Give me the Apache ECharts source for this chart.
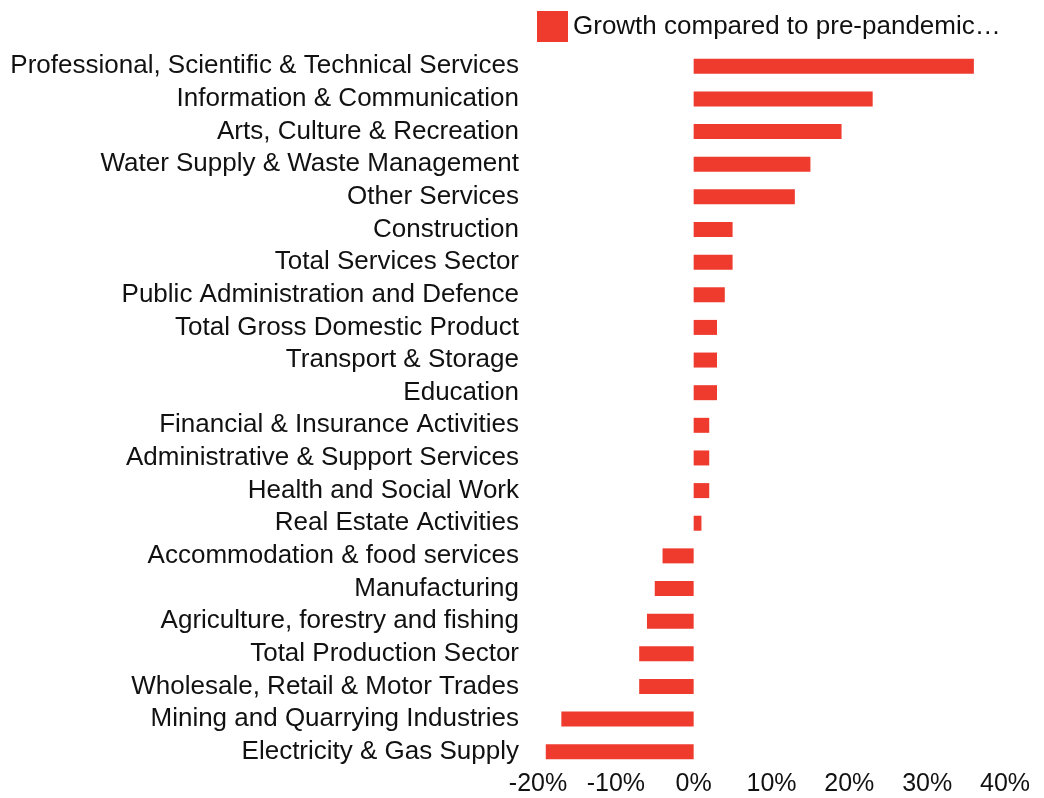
<!DOCTYPE html>
<html>
<head>
<meta charset="utf-8">
<script src="https://cdn.jsdelivr.net/npm/echarts@6/dist/echarts.min.js"></script>
<style>
  html, body { margin: 0; padding: 0; background: #fff; }
  #chart { width: 1044px; height: 798px; }
</style>
</head>
<body>
<div id="chart"></div>
<script>
// sectors, top to bottom
const sectors = [
  'Professional, Scientific & Technical Services',
  'Information & Communication',
  'Arts, Culture & Recreation',
  'Water Supply & Waste Management',
  'Other Services',
  'Construction',
  'Total Services Sector',
  'Public Administration and Defence',
  'Total Gross Domestic Product',
  'Transport & Storage',
  'Education',
  'Financial & Insurance Activities',
  'Administrative & Support Services',
  'Health and Social Work',
  'Real Estate Activities',
  'Accommodation & food services',
  'Manufacturing',
  'Agriculture, forestry and fishing',
  'Total Production Sector',
  'Wholesale, Retail & Motor Trades',
  'Mining and Quarrying Industries',
  'Electricity & Gas Supply'
]
// growth in %
const growth = [36, 23, 19, 15, 13, 5, 5, 4, 3, 3, 3, 2, 2, 2, 1, -4, -5, -6, -7, -7, -17, -19]
const seriesName = 'Growth compared to pre-pandemic…'

const font = "'Liberation Sans', Arial, sans-serif"

const chart = echarts.init(document.getElementById('chart'))
const option = {
  animation: false,
  textStyle: { fontFamily: font },
  legend: {
    left: 532,
    top: 6,
    itemWidth: 31,
    itemHeight: 31,
    itemGap: 10,
    textStyle: { fontSize: 26, color: '#111', fontFamily: font },
    data: [{ name: seriesName, icon: 'rect' }]
  },
  grid: {
    left: 538,
    right: 39,
    top: 50,
    bottom: 30,
    containLabel: false
  },
  xAxis: {
    type: 'value',
    min: -20,
    max: 40,
    interval: 10,
    axisLine: { show: false },
    axisTick: { show: false },
    splitLine: { show: false },
    axisLabel: {
      formatter: '{value}%',
      fontSize: 25,
      fontFamily: font,
      color: '#111',
      margin: 4
    }
  },
  yAxis: {
    type: 'category',
    inverse: true,
    data: sectors,
    axisLine: { show: false },
    axisTick: { show: false },
    axisLabel: {
      interval: 0,
      fontSize: 26,
      fontFamily: font,
      color: '#111',
      margin: 19,
      padding: [4, 0, 0, 0]
    }
  },
  series: [
    {
      name: seriesName,
      type: 'bar',
      barWidth: 15,
      itemStyle: { color: '#ee3b2e' },
      data: growth
    }
  ]
}
chart.setOption(option)
</script>
</body>
</html>
